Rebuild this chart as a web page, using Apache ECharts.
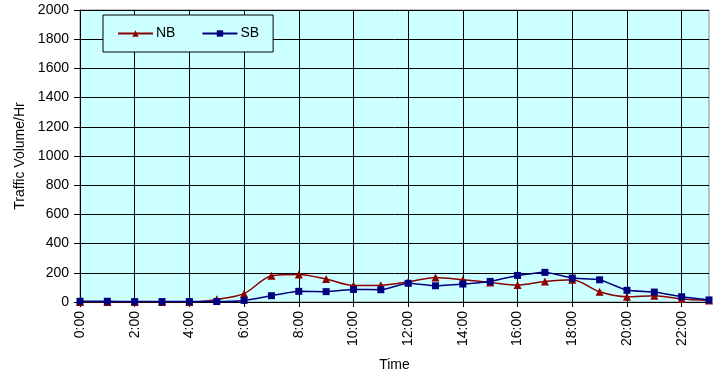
<!DOCTYPE html>
<html>
<head>
<meta charset="utf-8">
<script src="https://cdn.jsdelivr.net/npm/echarts@6/dist/echarts.min.js"></script>
<style>
  html, body { margin: 0; padding: 0; background: #ffffff; }
  #chart { width: 720px; height: 377px; }
</style>
</head>
<body>
<div id="chart"></div>
<script>
// Hourly traffic volume, northbound vs southbound
const hours = ['0:00','1:00','2:00','3:00','4:00','5:00','6:00','7:00','8:00','9:00','10:00','11:00',
               '12:00','13:00','14:00','15:00','16:00','17:00','18:00','19:00','20:00','21:00','22:00','23:00'];
const nbVolume = [0, 0, 0, 0, 0, 18, 57, 180, 189, 157, 113, 115,
                  138, 168, 152, 134, 116, 141, 152, 70, 36, 43, 20, 10];
const sbVolume = [5, 5, 3, 3, 3, 3, 11, 43, 73, 71, 86, 84,
                  128, 111, 123, 141, 182, 203, 164, 152, 80, 68, 36, 14];
const yTicks = { min: 0, max: 2000, step: 200 };

const FONT = 'Liberation Sans, Arial, sans-serif';
const chart = echarts.init(document.getElementById('chart'));

chart.setOption({
  animation: false,
  backgroundColor: '#ffffff',
  textStyle: { fontFamily: FONT },
  grid: {
    left: 80, right: 11, top: 10, bottom: 74,
    show: true,
    backgroundColor: '#ccffff',
    borderColor: '#888888',
    borderWidth: 1
  },
  legend: {
    left: 103, top: 15,
    padding: [10, 14, 10, 14],
    itemGap: 26,
    itemWidth: 35, itemHeight: 8,
    backgroundColor: '#ccffff',
    borderColor: '#000000', borderWidth: 1,
    textStyle: { color: '#000000', fontSize: 14, fontFamily: FONT, padding: [2, 0, 0, -2], lineHeight: 15 },
    data: ['NB', 'SB']
  },
  xAxis: {
    type: 'category',
    data: hours,
    boundaryGap: false,
    name: 'Time',
    nameLocation: 'middle',
    nameGap: 56,
    nameTextStyle: { color: '#000000', fontSize: 14, fontFamily: FONT },
    axisLine: { lineStyle: { color: '#000000', width: 1 } },
    axisTick: { show: true, interval: 1, length: 5, lineStyle: { color: '#000000' } },
    axisLabel: { interval: 1, rotate: 90, color: '#000000', fontSize: 14, fontFamily: FONT, margin: 9 },
    splitLine: { show: true, interval: 1, lineStyle: { color: '#000000', width: 1 } }
  },
  yAxis: {
    type: 'value',
    min: yTicks.min, max: yTicks.max, interval: yTicks.step,
    name: 'Traffic Volume/Hr',
    nameLocation: 'middle',
    nameGap: 53,
    nameTextStyle: { color: '#000000', fontSize: 14, fontFamily: FONT },
    axisLine: { show: true, lineStyle: { color: '#000000', width: 1 } },
    axisTick: { show: true, length: 6, lineStyle: { color: '#000000' } },
    axisLabel: { color: '#000000', fontSize: 14, fontFamily: FONT, margin: 11, formatter: v => String(v) },
    splitLine: { show: true, lineStyle: { color: '#000000', width: 1 } }
  },
  series: [
    {
      name: 'NB',
      type: 'line',
      data: nbVolume,
      smooth: 0.3,
      symbol: 'triangle',
      symbolSize: 8,
      color: '#8b0000',
      lineStyle: { color: '#8b0000', width: 1.5 },
      itemStyle: { color: '#8b0000' },
      z: 3
    },
    {
      name: 'SB',
      type: 'line',
      data: sbVolume,
      smooth: 0.15,
      symbol: 'rect',
      symbolSize: 7,
      color: '#000080',
      lineStyle: { color: '#000080', width: 1.5 },
      itemStyle: { color: '#000080' },
      z: 4
    }
  ]
});
</script>
</body>
</html>
